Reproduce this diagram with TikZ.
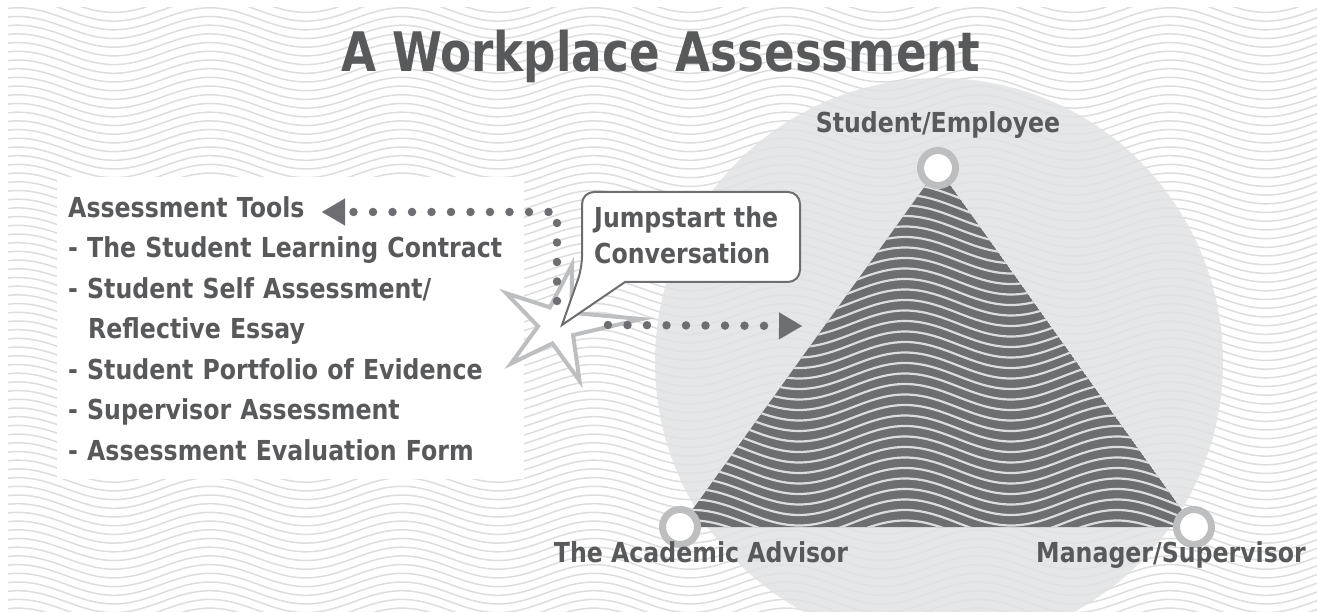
\documentclass[tikz,border=0pt]{standalone}
\usepackage{fontspec}
\setmainfont{DejaVu Sans}[FakeStretch=0.86]
\newfontfamily\titlefont{DejaVu Sans}[FakeStretch=0.83]
\usepackage{tikz}
\usetikzlibrary{positioning,shapes.geometric,arrows.meta}
\definecolor{ink}{HTML}{58595B}
\definecolor{slate}{HTML}{6D6E71}
\definecolor{ring}{HTML}{BCBEC0}
\definecolor{disc}{HTML}{E1E2E3}
\definecolor{ripple}{HTML}{DCDDDE}
\tikzset{
  ripplebg/.style={draw=ripple, line width=1.5pt},
  rippletri/.style={draw=ripple, line width=2.2pt},
  vertex/.style={circle, draw=ring, line width=7pt, fill=white, minimum size=35pt, inner sep=0pt},
  role/.style={font=\fontsize{27.5}{33}\selectfont\bfseries, text=ink, inner sep=0pt},
  toolbox/.style={fill=white, align=left, text width=445pt, inner xsep=11pt, inner ysep=19pt, text=ink, font=\fontsize{27.5}{40.5}\selectfont\bfseries},
  dotline/.style={draw=slate, line width=8.5pt, line cap=round, dash pattern=on 0pt off 19.5pt},
  pointer/.style={-{Triangle[length=23pt, width=27pt, line width=0.1pt]}},
  spark/.style={draw=ring, line width=4pt, fill=white},
  bubbleline/.style={draw=slate, line width=2pt, fill=white}
}
\begin{document}
\begin{tikzpicture}[x=1pt, y=-1pt]
  \useasboundingbox (0,0) rectangle (1317,612);
  \fill[white] (0,0) rectangle (1317,612);
  \begin{scope}
    \clip (8,8) rectangle (1317,612);
    \foreach \y in {-16,-7.3,...,640}
      \draw[ripplebg] (-30,\y) \foreach \k in {1,...,8} {sin ++(48,-11) cos ++(48,11) sin ++(48,11) cos ++(48,-11)};
  \end{scope}
  \fill[disc, opacity=0.85] (939,362) circle[radius=284pt];

  \coordinate (apexpt) at (938,168);
  \coordinate (acapt) at (680,527);
  \coordinate (manpt) at (1194,527);
  \begin{scope}
    \clip (apexpt) -- (acapt) -- (manpt) -- cycle;
    \fill[slate] (apexpt) -- (acapt) -- (manpt) -- cycle;
    \foreach \y in {145,155.5,...,550}
      \draw[rippletri] (640,\y) \foreach \k in {1,2,3} {sin ++(53,-13) cos ++(53,13) sin ++(53,13) cos ++(53,-13)};
  \end{scope}
  \node[vertex] (stu) at (apexpt) {};
  \node[vertex] (aca) at (acapt) {};
  \node[vertex] (man) at (manpt) {};

  \node[anchor=base, text=ink, font=\fontsize{54.5}{60}\selectfont\titlefont\bfseries] (title) at (661,72) {A Workplace Assessment};
  \node[role, anchor=base] (stulabel) at (938,133) {Student/Employee};
  \node[role, anchor=base] (acalabel) at (701,562) {The Academic Advisor};
  \node[role, anchor=base] (manlabel) at (1171,562) {Manager/Supervisor};

  \node[toolbox, anchor=north west] (tools) at (57,177) {Assessment Tools\\- The Student Learning Contract\\- Student Self Assessment/\\\hspace*{20pt}Reflective Essay\\- Student Portfolio of Evidence\\- Supervisor Assessment\\- Assessment Evaluation Form};

  % spark star, right arm longer
  \coordinate (star) at (557,325);
  \begin{scope}[shift={(star)}]
    \draw[spark] (-4:85) -- (-40:19) -- (-76:62) -- (-112:19) -- (-148:60) -- (-184:19)
      -- (-220:60) -- (-256:19) -- (-292:60) -- (-328:19) -- cycle;
  \end{scope}
  \coordinate (turn) at (557,212);
  \coordinate (toolsend) at (322,212);
  \coordinate (triangleend) at (802,326);
  \draw[dotline, pointer] ([yshift=24pt]star) -- (turn) -- (toolsend);
  \draw[dotline, pointer] ([xshift=51pt]star) -- (triangleend);

  \draw[bubbleline, rounded corners=12pt] (625,282) -- (800,282) -- (800,192) -- (582,192) -- (582,268) [sharp corners] -- ([xshift=5pt]star) -- cycle;
  \node[role, align=left, anchor=north west, font=\fontsize{27.5}{36}\selectfont\bfseries] (bubble) at (594,206) {Jumpstart the\\Conversation};
\end{tikzpicture}
\end{document}
